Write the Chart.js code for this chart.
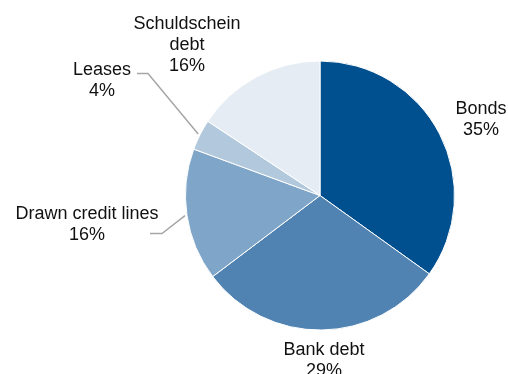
<!DOCTYPE html>
<html>
<head>
<meta charset="utf-8">
<script src="https://cdn.jsdelivr.net/npm/chart.js@4"></script>
<style>
    body { margin: 0; background: #fff; }
    canvas { display: block; }
</style>
</head>
<body>
<canvas id="myChart" width="508" height="374"></canvas>
<script>
// slices, clockwise from 12 o'clock
const categories = ["Bonds", "Bank debt", "Drawn credit lines", "Leases", "Schuldschein debt"];
const shares = [34.9, 29.8, 15.9, 3.7, 15.7];
const shareLabels = ["35%", "29%", "16%", "4%", "16%"];
const labelLines = [["Bonds"], ["Bank debt"], ["Drawn credit lines"], ["Leases"], ["Schuldschein", "debt"]];
const colors = ["#004f8f", "#5083b2", "#7fa6c8", "#b2c9dd", "#e5ecf4"];

// label placement relative to pie centre (text centre of first line), leader elbow if any
const labelPos = [
    { dx: 161, dy: -86 },
    { dx: 4, dy: 155 },
    { dx: -233, dy: 19 },
    { dx: -218, dy: -125 },
    { dx: -133, dy: -171 }
];
const leaders = [null, null, { ex: -158, ey: 38, tx: -170 }, { ex: -172, ey: -122, tx: -183 }, null];

const outsideLabels = {
    id: "outsideLabels",
    afterDatasetsDraw(chart) {
        const ctx = chart.ctx;
        const arcs = chart.getDatasetMeta(0).data;
        ctx.save();
        arcs.forEach((arc, i) => {
            const cx = arc.x, cy = arc.y;
            const mid = (arc.startAngle + arc.endAngle) / 2;
            const ld = leaders[i];
            if (ld) {
                const r = arc.outerRadius + 2;
                ctx.strokeStyle = "#a6a6a6";
                ctx.lineWidth = 1.5;
                ctx.beginPath();
                ctx.moveTo(cx + Math.cos(mid) * r, cy + Math.sin(mid) * r);
                ctx.lineTo(cx + ld.ex, cy + ld.ey);
                ctx.lineTo(cx + ld.tx, cy + ld.ey);
                ctx.stroke();
            }
            const lines = labelLines[i].concat([shareLabels[i]]);
            ctx.fillStyle = "#111111";
            ctx.font = "18px 'Liberation Sans', Arial, sans-serif";
            ctx.textAlign = "center";
            ctx.textBaseline = "middle";
            lines.forEach((t, k) => {
                ctx.fillText(t, cx + labelPos[i].dx, cy + labelPos[i].dy + k * 21);
            });
        });
        ctx.restore();
    }
};

new Chart(document.getElementById("myChart").getContext("2d"), {
    type: "pie",
    data: {
        labels: categories,
        datasets: [{
            data: shares,
            backgroundColor: colors,
            borderColor: "#ffffff",
            borderWidth: 1
        }]
    },
    options: {
        responsive: false,
        animation: false,
        layout: { padding: { top: 60, bottom: 43, left: 185, right: 53 } },
        plugins: {
            legend: { display: false },
            tooltip: { enabled: false }
        }
    },
    plugins: [outsideLabels]
});
</script>
</body>
</html>
